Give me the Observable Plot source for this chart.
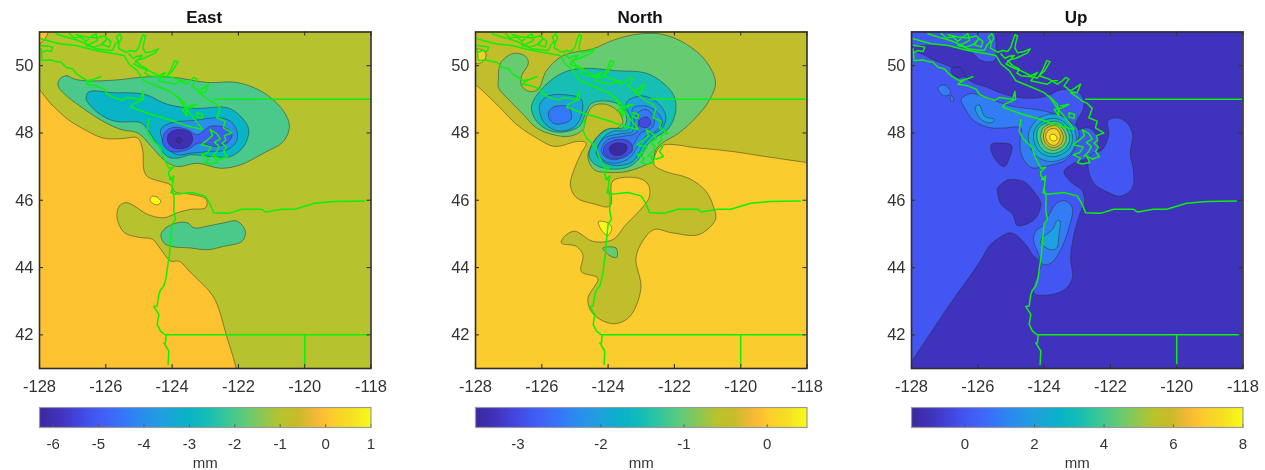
<!DOCTYPE html>
<html><head><meta charset="utf-8">
<script src="https://cdn.jsdelivr.net/npm/d3@7"></script>
<script src="https://cdn.jsdelivr.net/npm/@observablehq/plot@0.6"></script>
<style>
html,body{margin:0;padding:0;background:#fff}
#chart{position:relative;width:1265px;height:470px;overflow:hidden;font-family:"Liberation Sans",Arial,sans-serif;filter:blur(.35px)}
#chart svg{position:absolute;background:transparent;overflow:visible}
.ttl{position:absolute;top:8px;width:331px;text-align:center;font:bold 17px "Liberation Sans",Arial,sans-serif;color:#111}
</style></head><body><div id="chart"></div>
<script>
const titles=["East","North","Up"];
const xTicks=[-128,-126,-124,-122,-120,-118];
const yTicks=[42,44,46,48,50];
const cbarTicks=[[-6,-5,-4,-3,-2,-1,0,1],[-3,-2,-1,0],[0,2,4,6,8]];
const cbarDomains=[[-6.3,1],[-3.51,0.48],[-1.54,8]];
const paletteStops=[0,.05,.1,.16,.2,.25,.3,.37,.45,.5,.55,.62,.68,.726,.78,.83,.86,.88,.94,1];
const paletteColors=["#3A2A9E","#3F30B8","#4240D4","#4156F2","#4262F8","#3576F8","#2C8AF0","#1FA0E0","#08B4C6","#14BDB6","#2EC6A0","#60CC78","#90C650","#B7C32E","#C8BC28","#F0B835","#FDC030","#FBCC2E","#F5DF22","#F9FB15"];

// ---- boundaries (lon, lat)
const coastIslandWest=[[-127.95,50.5],[-127.92,50.15],[-127.65,50.17],[-127.5,50.12],[-127.35,50.1],[-127.2,49.95],[-127,49.9],[-126.9,49.78],[-126.8,49.7],[-126.55,49.55],[-126.35,49.6],[-126.15,49.67],[-126.4,49.58],[-126.6,49.45],[-126.3,49.4],[-126.05,49.3],[-125.95,49.15],[-125.8,49.07],[-125.65,49.02],[-125.5,48.97],[-125.35,49.05],[-125.2,49.03],[-124.95,49],[-124.88,49.23],[-124.86,49],[-125.2,48.85],[-125.25,48.77],[-124.7,48.57],[-124.1,48.4],[-123.6,48.23],[-123.1,48.1]];
const coastIslandEast=[[-127.95,50.8],[-127.4,50.65],[-126.9,50.6],[-126.3,50.45],[-125.9,50.38],[-125.45,50.3],[-125.3,50.05],[-125.05,49.85],[-124.85,49.55],[-124.35,49.35],[-124,49.2],[-123.8,49.03],[-123.65,48.8],[-123.4,48.5],[-123.1,48.13]];
const coastMainland=[[-127.5,50.95],[-127.2,50.85],[-127,50.8],[-126.75,50.72],[-126.6,50.65],[-126.45,50.58],[-126.3,50.5],[-126.05,50.47],[-125.8,50.45],[-125.72,50.62],[-125.62,50.72],[-125.68,50.85],[-125.58,50.95],[-125.52,50.82],[-125.6,50.68],[-125.62,50.52],[-125.4,50.4],[-125.25,50.45],[-125.1,50.42],[-125,50.55],[-124.95,50.72],[-124.88,50.92],[-124.8,50.88],[-124.85,50.7],[-124.88,50.52],[-124.8,50.38],[-124.6,50.42],[-124.42,50.5],[-124.5,50.38],[-124.85,50.22],[-125.1,50.15],[-124.95,50],[-124.75,49.9],[-124.82,49.78],[-124.7,49.7],[-124.45,49.68],[-124.2,49.63],[-124.05,49.85],[-123.92,50.15],[-123.82,50.12],[-123.98,49.85],[-124.15,49.7],[-123.85,49.6],[-123.6,49.45],[-123.45,49.55],[-123.35,49.65],[-123.25,49.6],[-123.4,49.4],[-123.2,49.25],[-123.05,49.35],[-122.9,49.45],[-123,49.2],[-123.2,49.2],[-122.98,49.05],[-122.85,48.95],[-122.7,48.88],[-122.55,48.73],[-122.65,48.45],[-122.4,48.35],[-122.45,48.15],[-122.2,48],[-122.42,47.92],[-122.38,47.78],[-122.5,47.7],[-122.36,47.58],[-122.45,47.45],[-122.33,47.3],[-122.55,47.22],[-122.72,47.32],[-122.62,47.12],[-122.85,47.08],[-123,47.12],[-122.9,47.25],[-123.12,47.35],[-122.92,47.42],[-122.82,47.58],[-123.12,47.65],[-122.95,47.78],[-122.78,47.92],[-122.85,48.1],[-122.65,47.98],[-122.55,47.82],[-122.72,47.72],[-122.58,47.6],[-122.65,47.45],[-122.8,47.3]];
const coastNorthIslands=[[-127.95,50.6],[-127.75,50.58],[-127.6,50.55],[-127.65,50.42],[-127.8,50.45],[-127.92,50.4]];
const coastTopTangle=[[-127.1,50.95],[-126.95,50.82],[-126.75,50.85],[-126.6,50.72],[-126.45,50.85],[-126.3,50.95],[-126.25,50.75],[-126.45,50.65],[-126.6,50.6],[-126.35,50.55],[-126.15,50.62],[-125.98,50.78],[-126.1,50.62],[-125.9,50.55],[-125.85,50.72],[-126.05,50.88],[-126.3,50.82],[-126.6,50.85],[-126.9,50.92]];
const coastInlets=[[-125.3,50.35],[-125.18,50.22],[-125.05,50.28],[-124.9,50.3],[-125.15,50.05],[-124.92,49.93],[-124.7,49.85],[-124.4,49.7],[-124.2,49.8],[-124.4,49.55],[-123.9,49.45],[-123.75,49.55],[-123.6,49.55]];
const coastSanJuan=[[-123.25,48.6],[-123.08,48.55],[-123.1,48.43],[-123.25,48.47],[-123.25,48.6]];
const coastGulf=[[-123.85,49.1],[-123.6,48.85],[-123.55,48.5],[-123.7,48.7],[-123.45,48.75],[-123.25,48.85],[-123.5,48.8]];
const coastWashington=[[-124.7,48.4],[-124.75,48.05],[-124.65,47.85],[-124.35,47.55],[-124.3,47.35],[-124.1,46.95],[-123.95,46.98],[-124.1,46.85],[-124.1,46.73],[-123.98,46.6],[-124.08,46.62],[-123.95,46.72],[-124,46.35],[-124.03,46.23]];
const coastColumbia=[[-124.03,46.23],[-123.9,46.18],[-123.4,46.23],[-123,46.13],[-122.85,45.88],[-122.75,45.63],[-122.3,45.61],[-121.9,45.73],[-121.3,45.73],[-121.18,45.65],[-120.7,45.73],[-120.3,45.73],[-119.7,45.91],[-119.1,45.96],[-118.2,45.98]];
const coastOregon=[[-124,46.35],[-123.95,46.13],[-123.94,46.08],[-123.95,45.68],[-123.9,45.43],[-124,45.29],[-124.05,44.79],[-124.08,44.39],[-124.14,44],[-124.18,43.7],[-124.25,43.45],[-124.35,43.33],[-124.4,43.2],[-124.45,42.86],[-124.55,42.84],[-124.4,42.61],[-124.45,42.31],[-124.35,42.11],[-124.18,41.98],[-124.2,41.76],[-124.25,41.76],[-124.1,41.52],[-124.12,41.12]];
const border49=[[-122.75,49],[-118.05,49]];
const border42=[[-124.18,42],[-118.1,42]];
const borderNV=[[-120,42],[-120,41.1]];
const boundaries=[coastIslandWest,coastIslandEast,coastMainland,coastNorthIslands,coastTopTangle,coastInlets,coastSanJuan,coastGulf,coastWashington,coastColumbia,coastOregon,border49,border42,borderNV];

// ---- East contours
const eOrange=[[-128.2,49.4],[-127.64,48.85],[-127.14,48.4],[-126.64,48.1],[-126.09,47.85],[-125.54,47.83],[-125.04,47.85],[-124.89,47.5],[-124.79,46.75],[-124.04,46.45],[-123.92,46.25],[-123.44,46.18],[-122.97,46.03],[-122.99,45.78],[-123.44,45.73],[-123.84,45.63],[-124.24,45.48],[-124.74,45.58],[-125.14,45.83],[-125.39,45.93],[-125.59,45.83],[-125.66,45.48],[-125.44,45.04],[-124.94,44.89],[-124.59,44.84],[-124.34,44.54],[-124.04,44.19],[-123.79,44.19],[-123.44,43.85],[-122.84,43.25],[-122.64,42.9],[-122.34,41.91],[-122.07,41.02],[-122,40.5],[-128.2,40.5]];
const eOrangeCorner=[[-128.2,51.2],[-127.75,51.2],[-127.8,50.85],[-128.2,50.55]];
const eYellow=[[-124.62,46.11],[-124.46,46.1],[-124.34,45.96],[-124.46,45.86],[-124.66,45.98]];
const eLev2=[[-127.39,49.6],[-127.19,49.7],[-126.94,49.6],[-126.59,49.55],[-125.74,49.57],[-124.74,49.67],[-123.94,49.65],[-122.94,49.5],[-122.04,49.5],[-121.24,49.2],[-120.64,48.65],[-120.46,48.2],[-120.64,47.75],[-121.24,47.4],[-121.94,47.05],[-122.54,46.95],[-123.24,47.1],[-123.84,47],[-124.19,47.15],[-124.54,47.5],[-125.04,48],[-125.54,48.1],[-126.09,48.35],[-126.64,48.7],[-127.24,49.15],[-127.44,49.4]];
const eLev2South=[[-124.34,44.98],[-124.19,45.18],[-123.84,45.33],[-123.54,45.33],[-123.34,45.18],[-122.94,45.23],[-122.44,45.33],[-122.04,45.38],[-121.79,45.08],[-121.89,44.78],[-122.44,44.63],[-122.94,44.53],[-123.44,44.58],[-124.04,44.63],[-124.24,44.73]];
const eLev3=[[-126.54,49.2],[-126.39,49.25],[-125.84,49.2],[-124.84,49.15],[-124.14,48.85],[-123.34,48.73],[-122.34,48.75],[-121.94,48.5],[-121.69,48.1],[-121.84,47.6],[-122.24,47.3],[-122.84,47.3],[-123.44,47.35],[-123.84,47.25],[-124.14,47.3],[-124.44,47.65],[-124.74,48.1],[-124.94,48.3],[-125.74,48.35],[-126.24,48.6],[-126.59,49]];
const eLev4=[[-124.34,48.1],[-124.04,48.3],[-123.34,48.37],[-122.64,48.45],[-122.24,48.35],[-122.04,48.05],[-122.06,47.75],[-122.34,47.5],[-122.84,47.45],[-123.44,47.4],[-123.84,47.35],[-124.19,47.6]];
const eLev5=[[-124.19,48.05],[-123.94,48.17],[-123.54,48.1],[-123.24,47.95],[-122.84,48.2],[-122.39,48.15],[-122.19,47.95],[-122.34,47.7],[-122.74,47.6],[-123.19,47.7],[-123.54,47.5],[-124.04,47.45],[-124.29,47.7]];
const eLev6=[[-124.12,47.95],[-123.84,48.1],[-123.44,48],[-123.39,47.75],[-123.54,47.57],[-123.94,47.55],[-124.12,47.7]];
const eCore=[[-123.89,47.8],[-123.79,47.87],[-123.69,47.77],[-123.79,47.69]];
const eastLevels=[[0,eOrange],[0,eOrangeCorner],[1,eYellow],[-2,eLev2],[-2,eLev2South],[-3,eLev3],[-4,eLev4],[-5,eLev5],[-6,eLev6],[-6.3,eCore]];

// ---- North contours
const nOlive=[[-128.2,49.55],[-128.2,51.3],[-117.8,51.3],[-117.8,47.1],[-118.06,47.13],[-119.26,47.3],[-120.26,47.45],[-121.26,47.55],[-122.36,47.63],[-122.58,47.35],[-122.61,47.05],[-122.26,46.85],[-121.56,46.65],[-121.06,46.28],[-120.81,45.78],[-120.76,45.43],[-121.26,44.98],[-122.06,45.03],[-122.61,45.13],[-122.96,44.78],[-123.16,44.28],[-123.01,43.38],[-123.36,42.53],[-123.86,42.33],[-124.46,42.63],[-124.61,43.08],[-124.31,43.68],[-124.81,43.88],[-124.76,44.38],[-124.96,44.63],[-125.41,44.73],[-125.31,44.93],[-125.01,45.08],[-124.46,44.78],[-123.86,44.83],[-123.46,45.28],[-123.06,45.68],[-122.76,46.08],[-122.78,46.45],[-123.06,46.65],[-123.86,46.57],[-123.94,45.83],[-124.46,45.9],[-124.96,46.08],[-125.14,46.46],[-125.01,46.95],[-124.81,47.4],[-124.66,47.7],[-124.91,47.75],[-125.61,47.6],[-126.16,47.85],[-126.76,48.25],[-127.26,48.75],[-127.96,49.4]];
const nGoldCorner=[[-127.94,50.5],[-127.76,50.45],[-127.68,50.3],[-127.81,50.1],[-128.2,50.1],[-128.2,50.55]];
const nYellow=[[-124.29,45.36],[-124.01,45.33],[-123.89,45.18],[-124.01,44.95],[-124.21,45.13]];
const nGreenSouth=[[-124.16,44.58],[-123.76,44.58],[-123.74,44.3],[-123.91,44.33]];
const nGreen=[[-127.31,49.55],[-127.26,50.05],[-127.01,50.3],[-126.76,50.37],[-126.46,50.25],[-126.41,50.05],[-126.61,49.7],[-126.61,49.4],[-126.36,49.23],[-126.11,49.3],[-125.86,49.85],[-125.36,50.3],[-124.46,50.5],[-123.86,50.75],[-123.16,50.93],[-122.36,50.93],[-121.66,50.65],[-121.06,50.15],[-120.76,49.5],[-120.96,48.95],[-121.36,48.45],[-121.86,48],[-122.36,47.7],[-122.56,47.5],[-122.66,47.15],[-122.86,47.05],[-123.46,46.85],[-124.06,46.83],[-124.41,46.9],[-124.61,47.3],[-124.36,47.85],[-124.06,48.1],[-123.71,48.15],[-123.56,48.3],[-123.66,48.6],[-124.06,48.85],[-124.46,48.8],[-124.66,48.45],[-124.76,48.1],[-125.16,47.9],[-125.66,47.95],[-126.16,48.15],[-126.56,48.55],[-126.96,48.95],[-127.31,49.35]];
const nTeal=[[-126.31,48.8],[-125.86,49.45],[-125.26,49.83],[-124.66,49.92],[-123.76,49.85],[-122.86,49.78],[-122.36,49.5],[-122.01,49.1],[-121.96,48.65],[-122.16,48.15],[-122.51,47.9],[-122.81,47.65],[-123.01,47.3],[-123.36,47],[-123.96,46.93],[-124.41,47.07],[-124.58,47.35],[-124.31,47.9],[-123.96,48.13],[-123.56,48.15],[-123.44,48.4],[-123.61,48.8],[-124.06,48.95],[-124.51,48.87],[-124.71,48.5],[-124.86,48.2],[-125.31,48.03],[-125.76,48.07],[-126.16,48.35]];
const nCyanWest=[[-126.06,48.85],[-125.81,49.1],[-125.26,49.13],[-124.81,49],[-124.81,48.5],[-125.06,48.15],[-125.56,48.07],[-125.96,48.35]];
const nCyanEast=[[-123.41,48.95],[-122.96,49.1],[-122.51,48.9],[-122.26,48.5],[-122.36,48.15],[-122.71,47.9],[-122.96,47.6],[-123.26,47.15],[-123.76,47.03],[-124.16,47.15],[-124.36,47.4],[-124.16,47.85],[-123.86,48.05],[-123.36,48.1],[-123.31,48.45],[-123.46,48.75]];
const nBlueEast=[[-123.26,48.73],[-122.86,48.8],[-122.51,48.6],[-122.36,48.3],[-122.56,48.05],[-122.86,47.9],[-123.11,47.6],[-123.36,47.25],[-123.81,47.1],[-124.16,47.2],[-124.34,47.45],[-124.11,47.85],[-123.66,47.97],[-123.26,48.05],[-123.21,48.35]];
const nDeepWest=[[-125.78,48.65],[-125.61,48.78],[-125.21,48.78],[-125.1,48.45],[-125.21,48.33],[-125.61,48.27],[-125.78,48.43]];
const nDeepEast=[[-123.14,48.55],[-122.86,48.7],[-122.61,48.45],[-122.66,48.17],[-123.01,48],[-123.21,47.7],[-123.46,47.35],[-123.81,47.2],[-124.11,47.3],[-124.21,47.5],[-124.01,47.8],[-123.56,47.9],[-123.16,48],[-123.08,48.3]];
const nIndigoNorth=[[-123.04,48.4],[-122.81,48.47],[-122.71,48.3],[-122.81,48.17],[-123.04,48.2]];
const nIndigoSouth=[[-124.11,47.6],[-123.76,47.8],[-123.36,47.75],[-123.26,47.5],[-123.46,47.3],[-123.86,47.23],[-124.11,47.35]];
const nCore=[[-123.94,47.6],[-123.71,47.7],[-123.44,47.63],[-123.48,47.43],[-123.76,47.33],[-123.94,47.43]];
const northLevels=[[-0.5,nOlive],[0,nGoldCorner],[0.48,nYellow],[-1,nGreenSouth],[-1,nGreen],[-1.5,nTeal],[-2,nCyanWest],[-2,nCyanEast],[-2.25,nBlueEast],[-2.5,nDeepWest],[-2.5,nDeepEast],[-3,nIndigoNorth],[-3,nIndigoSouth],[-3.5,nCore]];

// ---- Up contours
const uMain=[[-128.2,50.45],[-127.7,50.35],[-127.4,50.2],[-126.8,49.95],[-126.45,49.7],[-126.15,49.5],[-125.7,49.35],[-125.2,49.15],[-124.5,49.03],[-123.9,49.1],[-123.6,49.25],[-123.2,49.3],[-122.85,49.1],[-122.82,48.7],[-123.02,48.35],[-123.05,48.1],[-122.65,48.15],[-122.4,47.9],[-122.4,47.45],[-122.7,47.25],[-123.1,47.1],[-123.4,46.85],[-123.2,46.55],[-122.85,46.28],[-122.78,45.91],[-122.85,45.78],[-123.1,44.98],[-123.2,44.28],[-123.15,43.68],[-123.4,43.33],[-123.9,43.18],[-124.3,43.23],[-124.32,43.48],[-124.15,43.88],[-124.1,44.13],[-124.35,44.38],[-124.55,44.68],[-125,45.03],[-125.5,44.78],[-125.7,44.58],[-125.9,44.23],[-127,42.68],[-127.98,41.23],[-128.2,40.9]];
const uTopStrip=[[-128.2,51.2],[-125.6,51.2],[-125.45,50.55],[-125.5,50.15],[-125.9,50.15],[-126.2,50.4],[-127.1,50.6],[-127.7,50.6],[-128.2,50.65]];
const uEastBlob=[[-122.08,48.35],[-121.8,48.45],[-121.5,48.3],[-121.33,47.95],[-121.4,47.4],[-121.3,46.85],[-121.35,46.35],[-121.7,46.12],[-122.1,46.25],[-122.5,46.5],[-122.67,46.95],[-122.6,47.35],[-122.25,47.5],[-122.05,47.95]];
const uHoleA=[[-125.6,47.65],[-125.3,47.7],[-124.98,47.63],[-125.05,47.25],[-125.2,47],[-125.5,47.25]];
const uHoleB=[[-125.4,46.35],[-125.1,46.6],[-124.6,46.55],[-124.3,46.25],[-124.1,45.88],[-124.3,45.43],[-124.8,45.25],[-124.95,45.58],[-125.3,45.88],[-125.4,46.2]];
const uHoleC=[[-126.8,49.9],[-126.55,49.95],[-126.4,49.7],[-126.7,49.65]];
const uOne=[[-126.5,49],[-126.2,49.17],[-125.7,49.03],[-125,48.8],[-124,48.65],[-123.3,48.4],[-122.95,48.05],[-123.1,47.5],[-123.35,47.2],[-124,47],[-124.4,46.98],[-124.7,47.4],[-124.72,47.85],[-124.7,48.15],[-125.2,48.15],[-125.6,48.15],[-126.1,48.35],[-126.4,48.75]];
const uOneSmall=[[-127.2,49.35],[-127,49.43],[-126.82,49.2],[-126.95,49.1],[-127.12,49.17]];
const uOneTiny=[[-126.8,49.13],[-126.72,48.95],[-126.82,48.95]];
const uOneSouth=[[-123.9,45.48],[-123.6,45.93],[-123.35,45.98],[-123.15,45.78],[-123.25,45.18],[-123.5,44.53],[-123.8,44.13],[-124.05,44.1],[-124.18,44.43],[-124.32,44.83],[-124.25,45.08],[-124,45.28]];
const uTwoWest=[[-126.08,48.77],[-125.95,48.83],[-125.8,48.5],[-125.5,48.4],[-125.6,48.3],[-125.9,48.4]];
const uTwoSouth=[[-123.6,45.4],[-123.52,45.38],[-123.55,44.98],[-123.62,44.58],[-123.8,44.53],[-124.1,44.73],[-124.05,44.88],[-123.75,45.13]];
const uRing2=[[-124.45,48.06],[-124.13,48.46],[-123.59,48.55],[-123.14,48.23],[-123.03,47.8],[-123.21,47.38],[-123.75,47.15],[-124.24,47.31],[-124.45,47.69]];
const uRing3=[[-124.28,48.11],[-124.01,48.37],[-123.59,48.42],[-123.24,48.16],[-123.14,47.8],[-123.31,47.46],[-123.75,47.29],[-124.12,47.43],[-124.3,47.74]];
const uRing4=[[-124.18,48.13],[-123.96,48.29],[-123.61,48.34],[-123.33,48.13],[-123.23,47.82],[-123.39,47.52],[-123.75,47.39],[-124.03,47.49],[-124.2,47.77]];
const uRing5=[[-124.06,48.1],[-123.9,48.24],[-123.64,48.27],[-123.42,48.1],[-123.33,47.83],[-123.45,47.6],[-123.73,47.48],[-123.95,47.57],[-124.09,47.79]];
const uRing6=[[-123.98,48.08],[-123.84,48.19],[-123.64,48.22],[-123.49,48.08],[-123.42,47.85],[-123.51,47.65],[-123.72,47.56],[-123.89,47.63],[-124.01,47.81]];
const uRing7=[[-123.91,48.03],[-123.76,48.13],[-123.6,48.09],[-123.51,47.88],[-123.6,47.68],[-123.73,47.63],[-123.88,47.72],[-123.95,47.88]];
const uRing8=[[-123.8,47.95],[-123.66,47.94],[-123.61,47.81],[-123.72,47.76],[-123.82,47.83]];
const upLevels=[[0,uMain],[0,uTopStrip],[0,uEastBlob],[-1,uHoleA],[-1,uHoleB],[-1,uHoleC],[1,uOne],[1,uOneSmall],[1,uOneTiny],[1,uOneSouth],[2,uTwoWest],[2,uTwoSouth],[2,uRing2],[3,uRing3],[4,uRing4],[5,uRing5],[6,uRing6],[7,uRing7],[8,uRing8]];

const panelLefts=[38.7,474.6,910.6];
const baseLevels=[-1,0,-1];
const panelLevels=[eastLevels,northLevels,upLevels];

const root=document.getElementById("chart");
const INK="#333";
const place=(svg,l,t)=>{svg.style.left=l+"px";svg.style.top=t+"px";root.appendChild(svg);};

panelLefts.forEach((L,i)=>{
  const [lo,hi]=cbarDomains[i];
  const color={type:"linear",domain:paletteStops.map(f=>lo+f*(hi-lo)),range:paletteColors,clamp:true};
  const side=(a)=>({stroke:INK,strokeWidth:1.1,...a});
  const contours=panelLevels[i].map(([z,pts])=>Plot.line(pts,{x:d=>d[0],y:d=>d[1],fill:()=>z,stroke:"#2b2b2b",strokeWidth:.6,strokeOpacity:.8,curve:"catmull-rom-closed",clip:true}));
  const lines=boundaries.map(b=>Plot.line(b,{x:d=>d[0],y:d=>d[1],stroke:"#0CF00C",strokeWidth:1.5,clip:true}));
  const map=Plot.plot({
    width:391.5,height:400,marginLeft:40,marginRight:20,marginTop:31.5,marginBottom:32,
    style:{fontFamily:'"Liberation Sans",Arial,sans-serif',background:"transparent"},
    x:{domain:[-128,-118]},y:{domain:[41,51]},color,
    marks:[
      Plot.rect([baseLevels[i]],{x1:-128,x2:-118,y1:41,y2:51,fill:d=>d}),
      ...contours,...lines,
      Plot.ruleX(xTicks,side({y1:41,y2:41.12})),Plot.ruleX(xTicks,side({y1:50.88,y2:51})),
      Plot.ruleY(yTicks,side({x1:-128,x2:-127.88})),Plot.ruleY(yTicks,side({x1:-118.12,x2:-118})),
      Plot.frame({stroke:"#2e2e2e",strokeWidth:1.6}),
      Plot.axisX(xTicks,{tickSize:0,tickPadding:12,fontSize:16.5,tickFormat:d=>`${d}`,label:null,fill:INK}),
      Plot.axisY(yTicks,{tickSize:0,tickPadding:6,fontSize:16.5,tickFormat:d=>`${d}`,label:null,fill:INK})
    ]});
  place(map,L-40,0);

  const bar=Plot.plot({
    width:391.5,height:64,marginLeft:40,marginRight:20,marginTop:1,marginBottom:43,
    style:{fontFamily:'"Liberation Sans",Arial,sans-serif',background:"transparent"},
    x:{domain:[lo,hi],axis:null},y:{domain:[0,1],axis:null},color,
    marks:[
      Plot.raster({x1:lo,x2:hi,y1:0,y2:1,width:331,height:2,fill:(x,y)=>x,imageRendering:"auto"}),
      Plot.ruleX(cbarTicks[i],{y1:0,y2:.13,stroke:"#555",strokeWidth:1}),
      Plot.frame({stroke:"#9a9a9a",strokeWidth:1.2}),
      Plot.axisX(cbarTicks[i],{tickSize:0,tickPadding:11,fontSize:15,tickFormat:d=>`${d}`,label:null,fill:INK}),
      Plot.text(["mm"],{frameAnchor:"bottom",dy:40,fontSize:15,fill:INK,text:d=>d})
    ]});
  place(bar,L-40,405.5);

  const t=document.createElement("div");
  t.className="ttl";t.textContent=titles[i];t.style.left=L+"px";root.appendChild(t);
});
</script></body></html>
